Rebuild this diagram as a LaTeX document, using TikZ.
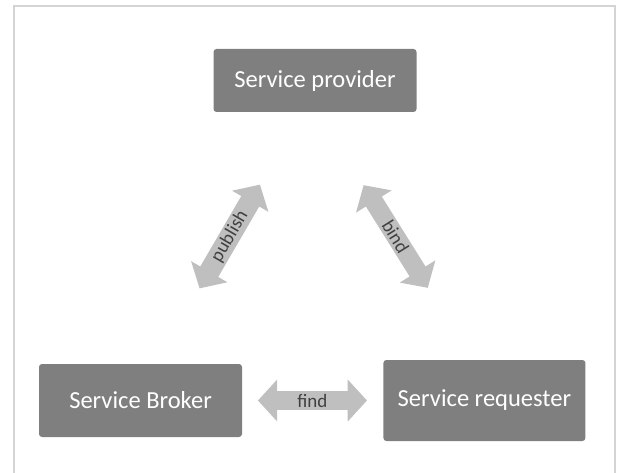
\documentclass[tikz,border=0pt]{standalone}
\usepackage{fontspec}
\setmainfont{Carlito}
\usepackage{tikz}
\usetikzlibrary{positioning,calc,shapes.arrows}
\definecolor{soaboxgray}{HTML}{7F7F7F}
\definecolor{soaarrowgray}{HTML}{BFBFBF}
\definecolor{soalabelgray}{HTML}{404040}
\definecolor{soaframegray}{HTML}{D4D4D4}

\begin{document}
\begin{tikzpicture}[
  x=1pt, y=1pt,
  role/.style={rectangle, rounded corners=3pt, fill=soaboxgray, text=white, minimum width=203pt, align=center, font=\fontsize{24.5}{28}\selectfont},
  link/.style={double arrow, fill=soaarrowgray, text=soalabelgray, double arrow head extend=8.5pt, double arrow tip angle=95, minimum width=42pt, inner sep=0pt, font=\fontsize{19}{22}\selectfont}
]
\useasboundingbox (0,0) rectangle (619,472);
\draw[soaframegray, line width=1.5pt] (14,-10) rectangle (615,466);
\node[role, minimum height=63pt] (provider) at (315,391.5) {Service provider};
\node[role, minimum height=73pt] (broker) at (140.5,71.5) {Service Broker};
\node[role, minimum height=81pt, minimum width=202pt, right=141pt of broker] (requester) {Service requester};
\node[link, minimum height=120pt, rotate=59.8] (publish) at ($(broker)!0.5!(provider)+(2,4)$) {publish};
\node[link, minimum height=121pt, rotate=-58] (bind) at ($(provider)!0.5!(requester)+(-4,4)$) {bind};
\node[link, minimum height=109pt] (find) at ($(broker)!0.5!(requester)$) {find};
\end{tikzpicture}
\end{document}
